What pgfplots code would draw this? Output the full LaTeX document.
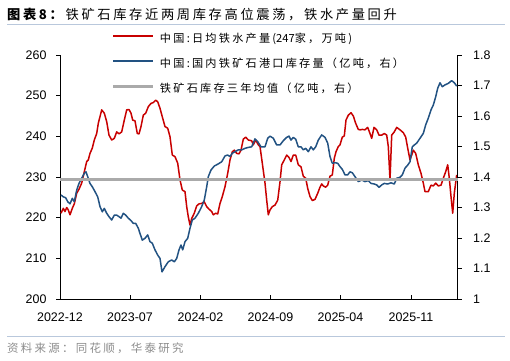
\documentclass[border=0pt]{standalone}
\usepackage{fontspec}
\setmainfont{Liberation Sans}
\newfontfamily\cjk[LetterSpace=20]{Noto Sans CJK SC}
\newfontfamily\cjknarrow{Noto Sans CJK SC}
\usepackage{pgfplots}
\pgfplotsset{compat=1.18}
\usepackage{pgfplotstable}
\definecolor{redline}{RGB}{200,0,0}
\definecolor{blueline}{RGB}{34,82,130}
\definecolor{grayline}{RGB}{170,170,170}
\definecolor{rulecol}{RGB}{185,200,220}
\definecolor{srcgray}{RGB}{140,140,140}

\pgfplotstableread{
x y
0.10 221.1
0.33 222.3
0.50 221.5
0.67 222.5
0.83 221.9
1.00 220.7
1.23 222.3
1.43 223.4
1.67 226.0
1.90 227.0
2.17 228.5
2.43 231.3
2.67 233.8
2.83 234.2
3.00 235.8
3.23 237.1
3.43 239.1
3.67 240.7
3.83 243.2
4.17 246.5
4.43 245.7
4.67 243.6
4.90 240.3
5.17 239.1
5.43 239.5
5.67 241.1
5.90 240.6
6.17 241.1
6.43 244.0
6.67 246.5
6.90 246.6
7.10 245.7
7.27 244.0
7.50 243.8
7.73 240.7
7.90 240.6
8.10 242.4
8.33 245.2
8.57 245.7
8.83 247.3
9.10 248.1
9.33 248.3
9.57 248.9
9.77 248.5
10.00 246.9
10.23 244.8
10.50 242.4
10.77 242.0
11.00 239.9
11.23 235.4
11.50 235.0
11.77 233.4
12.00 229.3
12.23 226.8
12.50 226.4
12.67 222.7
12.83 220.2
13.00 218.2
13.17 219.8
13.43 221.1
13.67 222.9
13.90 223.4
14.17 223.5
14.43 223.9
14.67 222.7
14.90 222.1
15.17 221.5
15.33 220.7
15.57 221.1
15.77 220.9
16.00 223.5
16.23 225.2
16.50 227.6
16.77 230.9
17.00 234.2
17.23 236.2
17.43 236.6
17.67 235.8
17.90 235.7
18.10 236.6
18.33 239.3
18.57 239.8
18.83 239.1
19.17 238.9
19.33 237.9
19.57 239.1
19.83 237.9
20.00 237.5
20.23 233.4
20.50 228.5
20.67 224.3
20.83 220.7
21.00 221.9
21.23 222.7
21.50 223.1
21.77 224.3
22.00 228.8
22.17 233.0
22.43 234.2
22.67 235.4
22.90 234.8
23.10 233.8
23.33 235.4
23.57 235.4
23.83 233.0
24.10 232.5
24.33 230.2
24.57 229.7
24.77 227.2
25.00 225.2
25.23 224.2
25.50 224.5
25.77 226.0
26.00 227.5
26.17 228.3
26.33 227.8
26.57 227.5
26.77 228.0
27.00 230.2
27.23 230.5
27.43 234.6
27.60 236.2
27.83 237.5
28.00 237.9
28.23 239.8
28.43 240.1
28.60 244.0
28.83 245.2
29.10 245.8
29.33 245.0
29.57 243.2
29.83 241.7
30.00 241.6
30.23 241.7
30.50 241.6
30.77 242.2
31.00 240.7
31.17 239.5
31.40 242.2
31.67 241.6
31.90 240.3
32.17 240.3
32.43 240.7
32.67 240.3
32.83 237.5
33.00 229.3
33.17 240.3
33.43 241.1
33.67 242.2
34.00 241.6
34.33 240.9
34.57 239.8
34.77 237.1
35.00 234.2
35.17 235.4
35.33 236.6
35.57 235.8
35.83 233.0
36.10 230.9
36.33 228.5
36.50 226.4
36.83 226.4
37.10 228.0
37.33 227.8
37.57 228.5
37.83 227.8
38.10 228.0
38.33 229.7
38.57 231.3
38.77 233.0
38.93 229.7
39.10 225.2
39.27 221.1
39.43 226.0
39.67 230.5
}\redtab

\pgfplotstableread{
x y
0.10 1.341
0.33 1.335
0.57 1.332
0.77 1.319
1.00 1.312
1.23 1.330
1.43 1.319
1.67 1.357
1.90 1.379
2.17 1.396
2.43 1.412
2.60 1.417
2.77 1.401
3.00 1.379
3.23 1.368
3.50 1.352
3.77 1.335
4.00 1.303
4.23 1.286
4.43 1.297
4.67 1.281
4.90 1.270
5.17 1.259
5.43 1.275
5.67 1.275
5.90 1.270
6.10 1.265
6.33 1.281
6.57 1.275
6.83 1.265
7.10 1.257
7.33 1.248
7.57 1.248
7.83 1.232
8.00 1.215
8.23 1.193
8.50 1.199
8.77 1.210
9.00 1.188
9.23 1.183
9.50 1.161
9.77 1.144
10.00 1.133
10.20 1.089
10.50 1.106
10.83 1.122
11.17 1.128
11.43 1.122
11.67 1.133
11.90 1.161
12.10 1.177
12.27 1.161
12.50 1.188
12.77 1.199
13.00 1.232
13.23 1.259
13.50 1.265
13.83 1.281
14.17 1.303
14.43 1.325
14.67 1.368
14.83 1.401
15.10 1.423
15.43 1.436
15.83 1.443
16.17 1.450
16.50 1.469
16.77 1.472
17.00 1.467
17.23 1.478
17.50 1.483
17.83 1.489
18.17 1.489
18.50 1.494
18.83 1.497
19.17 1.499
19.50 1.525
19.77 1.516
20.10 1.499
20.50 1.499
20.77 1.527
21.00 1.534
21.33 1.527
21.67 1.505
22.00 1.505
22.33 1.519
22.67 1.530
22.90 1.534
23.10 1.521
23.33 1.530
23.57 1.524
23.83 1.499
24.10 1.499
24.33 1.489
24.57 1.494
24.83 1.483
25.10 1.499
25.33 1.489
25.57 1.499
25.83 1.521
26.17 1.538
26.50 1.530
26.77 1.511
27.00 1.467
27.23 1.445
27.50 1.447
27.77 1.445
28.00 1.434
28.23 1.425
28.50 1.407
28.77 1.407
29.00 1.417
29.23 1.414
29.50 1.401
29.83 1.385
30.17 1.390
30.50 1.385
30.83 1.388
31.10 1.379
31.43 1.377
31.67 1.374
31.90 1.366
32.17 1.374
32.43 1.379
32.77 1.377
33.10 1.381
33.43 1.377
33.67 1.396
34.00 1.399
34.23 1.407
34.50 1.429
34.77 1.439
35.00 1.450
35.23 1.499
35.43 1.505
35.67 1.511
36.00 1.527
36.33 1.543
36.57 1.571
36.83 1.593
37.10 1.620
37.33 1.636
37.57 1.663
37.77 1.691
38.00 1.709
38.23 1.696
38.50 1.702
38.83 1.707
39.17 1.716
39.43 1.709
39.67 1.698
}\bluetab

\pgfplotstableread{
x y
0.00 1.393
39.77 1.393
}\graytab

\begin{document}
\begin{tikzpicture}
\path[use as bounding box] (0,0) rectangle (510bp,361bp);
\node[anchor=west, inner sep=0pt] at (7bp,346bp) {\cjk\fontsize{13.3}{15}\selectfont\textbf{图表8：}铁矿石库存近两周库存高位震荡，铁水产量回升};
\draw[rulecol, line width=0.8bp] (7bp,337bp) -- (505bp,337bp);
\draw[rulecol, line width=0.8bp] (7bp,24.3bp) -- (505bp,24.3bp);
\node[anchor=west, inner sep=0pt, text=srcgray] at (7bp,12.7bp) {\cjk\fontsize{11.5}{13}\selectfont 资料来源：同花顺，华泰研究};

\pgfplotsset{
  every axis/.append style={
    at={(60bp,62bp)}, anchor=south west, scale only axis,
    width=397.7bp, height=244bp,
    xmin=0, xmax=39.77,
    major tick length=4bp,
    tick style={black, line width=0.6bp},
    axis line style={black, line width=0.7bp},
    tick label style={font=\fontsize{12.5}{14}\selectfont},
    /pgf/number format/assume math mode=true,
    clip=false,
  }
}

\begin{axis}[
  axis y line*=left, axis x line*=bottom,
  ymin=200, ymax=260,
  ytick={200,210,220,230,240,250,260},
  xtick={0,7,14.05,21.05,28.05,35.1},
  xticklabels={2022-12,2023-07,2024-02,2024-09,2025-04,2025-11},
  xtick align=inside, ytick align=outside,
  xticklabel style={yshift=-10bp},
  yticklabel style={xshift=-6bp},
]
\addplot[redline, line width=1.5bp, line join=round] table[x=x,y=y] {\redtab};
\end{axis}

\begin{axis}[
  axis y line*=right, axis x line=none,
  ymin=1, ymax=1.8,
  ytick={1,1.1,1.2,1.3,1.4,1.5,1.6,1.7,1.8},
  yticklabels={1,1.1,1.2,1.3,1.4,1.5,1.6,1.7,1.8},
  ytick align=outside,
  yticklabel style={xshift=8bp},
  legend style={at={(axis description cs:0.1307,1.09)}, anchor=north west,
    draw=none, fill=none, inner sep=0pt, outer sep=0pt,
    font=\cjk\fontsize{11.2}{13}\selectfont,
    row sep=13.8bp, column sep=5bp,
    nodes={inner sep=0pt, text height=9bp, text depth=2.5bp}},
  legend cell align=left,
  legend image code/.code={\draw[#1] (0bp,3bp) -- (40bp,3bp);},
]
\addlegendimage{redline, line width=1.5bp}
\addlegendentry{中国:日均铁水产量({\cjknarrow 247}家，万吨)}
\addplot[blueline, line width=1.5bp, line join=round] table[x=x,y=y] {\bluetab};
\addlegendentry{中国:国内铁矿石港口库存量（亿吨，右）}
\addplot[grayline, line width=3bp] table[x=x,y=y] {\graytab};
\addlegendentry{铁矿石库存三年均值（亿吨，右）}
\end{axis}
\end{tikzpicture}
\end{document}
